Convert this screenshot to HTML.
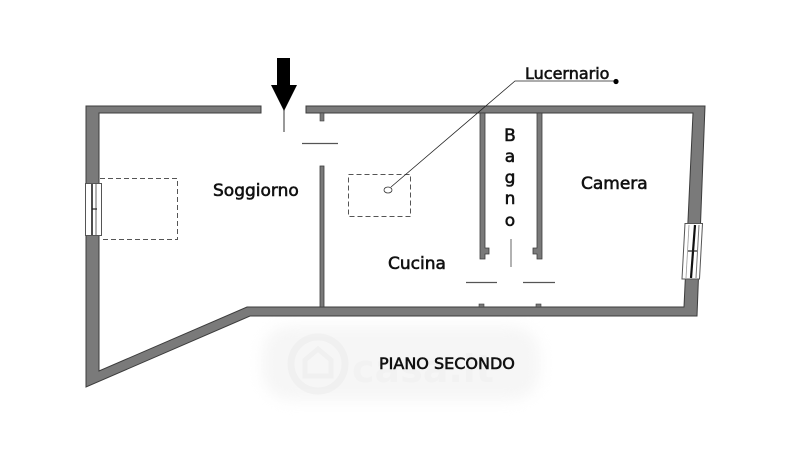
<!DOCTYPE html>
<html>
<head>
<meta charset="utf-8">
<style>
html,body{margin:0;padding:0;background:#fff;}
body{width:800px;height:470px;overflow:hidden;position:relative;}
.wm{position:absolute;left:262px;top:326px;width:278px;height:74px;background:#f6f6f6;border-radius:28px;filter:blur(7px);}
svg{position:absolute;left:0;top:0;}
text{font-family:"DejaVu Sans","Liberation Sans",sans-serif;fill:#111;stroke:#111;stroke-width:0.6px;}
</style>
</head>
<body>
<div class="wm"></div>
<svg width="800" height="470" viewBox="0 0 800 470" xmlns="http://www.w3.org/2000/svg">
  <!-- faint watermark logo -->
  <g opacity="0.35">
    <circle cx="318" cy="364" r="27" fill="none" stroke="#e6e6e6" stroke-width="7"/>
    <path d="M305 376 L305 360 L318 349 L331 360 L331 376 Z" fill="none" stroke="#e6e6e6" stroke-width="5"/>
    <text x="352" y="382" font-size="38" style="fill:#ececec;stroke:none;font-weight:bold;">casa.it</text>
  </g>

  <!-- outer walls -->
  <polygon points="261,106 86,106 86,387 250,316 697,316 705,106 306,106 306,113 693,113 684,307 247,307 99,371 99,113 261,113"
    fill="#7a7a7a" stroke="#3c3c3c" stroke-width="1" stroke-linejoin="miter"/>

  <!-- interior walls -->
  <rect x="320" y="113" width="4" height="8" fill="#7a7a7a" stroke="#3c3c3c" stroke-width="0.6"/>
  <rect x="320" y="166" width="4" height="141" fill="#7a7a7a" stroke="#3c3c3c" stroke-width="0.8"/>
  <!-- bagno walls -->
  <polygon points="480,113 485,113 485,248 489,248 489,254 485,254 485,259 480,259" fill="#7a7a7a" stroke="#3c3c3c" stroke-width="0.8"/>
  <polygon points="537,113 542,113 542,259 537,259 537,254 533,254 533,248 537,248" fill="#7a7a7a" stroke="#3c3c3c" stroke-width="0.8"/>
  <!-- bottom stubs -->
  <rect x="479" y="304" width="5" height="3" fill="#7a7a7a" stroke="#3c3c3c" stroke-width="0.6"/>
  <rect x="536" y="304" width="5" height="3" fill="#7a7a7a" stroke="#3c3c3c" stroke-width="0.6"/>

  <!-- door lines -->
  <line x1="302" y1="143.5" x2="338" y2="143.5" stroke="#555" stroke-width="1.3"/>
  <line x1="466" y1="282.5" x2="497" y2="282.5" stroke="#555" stroke-width="1.3"/>
  <line x1="523" y1="282.5" x2="555" y2="282.5" stroke="#555" stroke-width="1.3"/>
  <line x1="511" y1="239" x2="511" y2="267" stroke="#666" stroke-width="1"/>
  <line x1="284" y1="110" x2="284" y2="132" stroke="#555" stroke-width="1.2"/>

  <!-- entrance arrow -->
  <polygon points="277,58 290,58 290,85 297,85 284,111 271,85 277,85" fill="#000"/>

  <!-- left window -->
  <rect x="85.5" y="183.5" width="16" height="52" fill="#fff" stroke="#555" stroke-width="1"/>
  <line x1="92" y1="184" x2="92" y2="235" stroke="#222" stroke-width="1.6"/>
  <line x1="96" y1="184" x2="96" y2="235" stroke="#666" stroke-width="1"/>
  <line x1="92" y1="209" x2="97" y2="209" stroke="#222" stroke-width="1.2"/>

  <!-- right window -->
  <polygon points="685,223.5 702.5,223.5 699.5,279 682,279" fill="#fff" stroke="#555" stroke-width="1"/>
  <line x1="695" y1="225" x2="691" y2="278" stroke="#111" stroke-width="2.2"/>
  <line x1="699" y1="225" x2="696" y2="278" stroke="#777" stroke-width="1"/>
  <line x1="689" y1="225" x2="686" y2="278" stroke="#999" stroke-width="0.8"/>
  <line x1="688" y1="251" x2="697" y2="251" stroke="#222" stroke-width="1.2"/>

  <!-- dashed rectangles -->
  <polyline points="100,178.5 177.5,178.5 177.5,239.5 100,239.5" fill="none" stroke="#555" stroke-width="1" stroke-dasharray="5,3"/>
  <rect x="348.5" y="174.5" width="62" height="42" fill="none" stroke="#555" stroke-width="1" stroke-dasharray="5,3"/>
  <ellipse cx="388" cy="190" rx="4" ry="3" fill="#fff" stroke="#333" stroke-width="0.8"/>

  <!-- leader -->
  <polyline points="391,187 515,81 616,81" fill="none" stroke="#222" stroke-width="0.8"/>
  <circle cx="616" cy="81.5" r="2.6" fill="#000"/>

  <!-- labels -->
  <text x="213" y="196" font-size="17">Soggiorno</text>
  <text x="388" y="269" font-size="17">Cucina</text>
  <text x="581" y="189" font-size="17">Camera</text>
  <text x="525" y="79" font-size="16">Lucernario</text>
  <text x="379" y="369" font-size="16">PIANO SECONDO</text>
  <g font-size="17" text-anchor="middle">
    <text x="510" y="141">B</text>
    <text x="510" y="162">a</text>
    <text x="510" y="183">g</text>
    <text x="510" y="204">n</text>
    <text x="510" y="226">o</text>
  </g>
</svg>
</body>
</html>
